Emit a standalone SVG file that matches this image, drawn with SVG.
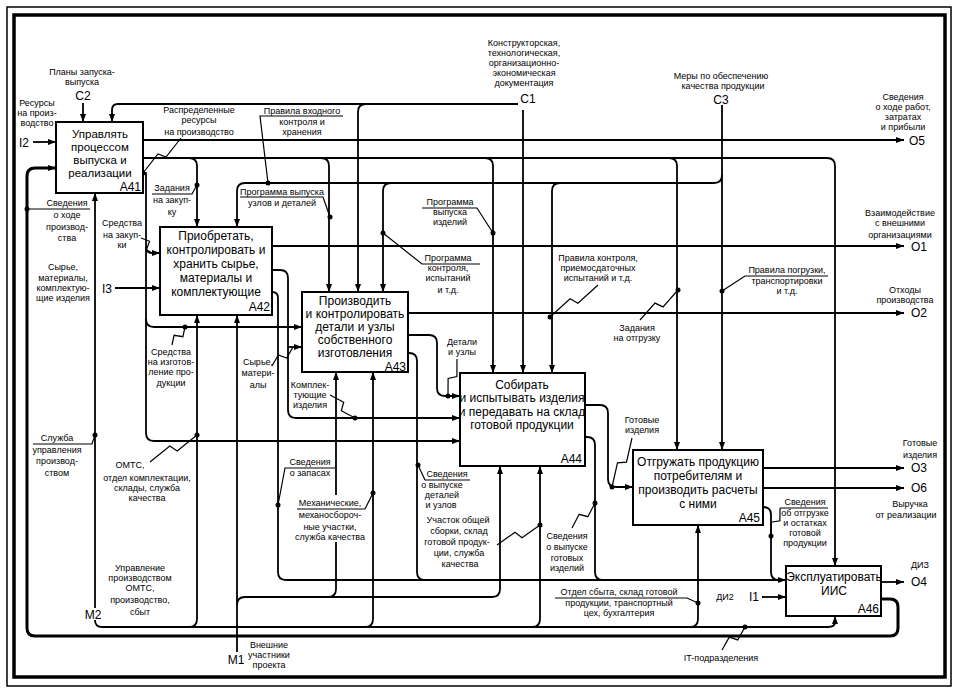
<svg xmlns="http://www.w3.org/2000/svg" width="958" height="690" viewBox="0 0 958 690">
<defs>
<marker id="arr" viewBox="0 0 8 6" refX="8" refY="3" markerWidth="8" markerHeight="6" markerUnits="userSpaceOnUse" orient="auto"><path d="M0,0 L8,3 L0,6 z" fill="#000"/></marker>
<style>
.ln{fill:none;stroke:#000;stroke-width:1.8;stroke-linejoin:round}
.ar{marker-end:url(#arr)}
.thk{stroke-width:3}
.thin{fill:none;stroke:#000;stroke-width:1.2}
.box{fill:#fff;stroke:#000;stroke-width:2}
.dot{fill:#000}
text{font-family:"Liberation Sans",Arial,sans-serif;fill:#000}
.t{font-size:9px;text-anchor:middle}
.bt{font-size:12px;text-anchor:middle}
.bts{font-size:11.5px;text-anchor:middle}
.bid{font-size:12px;text-anchor:end}
.cd{font-size:12px;text-anchor:middle}
</style>
</defs>
<rect x="0" y="0" width="958" height="690" fill="#fff"/>
<rect x="7" y="7" width="944" height="679" fill="none" stroke="#000" stroke-width="1.5"/>
<rect x="14" y="15" width="931" height="662" fill="none" stroke="#000" stroke-width="3.5"/>

<g id="connectors">
<path class="ln ar" d="M83,103 V122"/>
<path class="ln ar" d="M518,104 H118 Q112,104 112,110 V122"/>
<path class="ln ar" d="M366,104 Q358,104 358,112 V292"/>
<path class="ln ar" d="M523,110 V373"/>
<path class="ln ar" d="M722,105 V450"/>
<path class="ln ar" d="M722,175 Q722,183 714,183 H245 Q237,183 237,191 V227"/>
<path class="ln ar" d="M391,183 Q383,183 383,191 V292"/>
<path class="ln ar" d="M560,183 Q552,183 552,191 V373"/>
<path class="ln ar" d="M143,158 H827 Q835,158 835,166 V566"/>
<path class="ln ar" d="M189,158 Q197,158 197,166 V227"/>
<path class="ln ar" d="M321,158 Q329,158 329,166 V292"/>
<path class="ln ar" d="M485,158 Q493,158 493,166 V373"/>
<path class="ln ar" d="M669,158 Q677,158 677,166 V450"/>
<path class="ln ar" d="M143,140 H904"/>
<path class="ln ar" d="M33,142 H56"/>
<path class="ln ar" d="M115,288 H160"/>
<path class="ln ar thk" d="M881,599 H890 Q898,599 898,607 V628 Q898,636 890,636 H35 Q27,636 27,628 V176 Q27,168 35,168 H56"/>
<path class="ln ar" d="M143,173 H146 V433 Q146,441 154,441 H460"/>
<path class="ln ar" d="M146,247 Q146,253 152,253 H160"/>
<path class="ln ar" d="M146,319 Q146,327 154,327 H302"/>
<path class="ln ar" d="M95,608 V193"/>
<path class="ln ar" d="M95,620 Q95,627 102,627 H828 Q835,627 835,622 V616"/>
<path class="ln ar" d="M189,627 Q197,627 197,619 V315"/>
<path class="ln ar" d="M365,627 Q373,627 373,619 V372"/>
<path class="ln ar" d="M532,627 Q540,627 540,619 V466"/>
<path class="ln ar" d="M690,627 Q698,627 698,619 V525"/>
<path class="ln ar" d="M237,652 V315"/>
<path class="ln ar" d="M237,605 Q237,597 245,597 H492 Q500,597 500,589 V466"/>
<path class="ln" d="M328,597 Q336,597 336,589 V542"/>
<path class="ln ar" d="M336,495 V372"/>
<path class="ln ar" d="M272,246 H904"/>
<path class="ln ar" d="M272,270 H280 Q288,270 288,278 V410 Q288,418 296,418 H460"/>
<path class="ln ar" d="M288,347 H302"/>
<path class="ln ar" d="M272,292 Q278,292 278,298 V572 Q278,580 286,580 H786"/>
<path class="ln ar" d="M408,313 H904"/>
<path class="ln ar" d="M408,335 H429 Q437,335 437,343 V388 Q437,396 445,396 H460"/>
<path class="ln" d="M408,353 H409 Q417,353 417,361 V572 Q417,580 425,580"/>
<path class="ln ar" d="M585,405 H600 Q608,405 608,413 V479 Q608,487 616,487 H633"/>
<path class="ln" d="M585,437 H587 Q595,437 595,445 V572 Q595,580 603,580"/>
<path class="ln ar" d="M763,468 H904"/>
<path class="ln ar" d="M763,488 H904"/>
<path class="ln" d="M763,507 Q771,507 771,515 V572 Q771,580 779,580"/>
<path class="ln ar" d="M762,597 H786"/>
<path class="ln ar" d="M881,582 H904"/>

<path class="thin" d="M181,138 L166,157 L158,154 L143,173"/>
<path class="thin" d="M141,238 L149.6,241.3 L146.4,249.7 L152,253"/>
<path class="thin" d="M172,345 L174.1,335.3 L182.9,336.7 L185,327"/>
<path class="thin" d="M150,462 L169.8,446 L177.2,451 L197,435"/>
<path class="thin" d="M598,285 L577.9,303.2 L570.1,298.8 L550,317"/>
<path class="thin" d="M640,320 L655,303.1 L663,306.9 L678,290"/>
<path class="thin" d="M272,366 L278.3,354.9 L286.7,358.1 L293,347"/>
<path class="thin" d="M330,395 L343.7,402.2 L341.3,410.8 L355,418"/>
<path class="thin" d="M457,359 L456.9,376.5 L448.1,378.5 L448,396"/>
<path class="thin" d="M632,438 L626.5,462.2 L617.5,462.8 L612,487"/>
<path class="thin" d="M497,545 L515,532.2 L522,537.8 L540,525"/>
<path class="thin" d="M572,528 L579.2,514.3 L587.8,516.7 L595,503"/>
<path class="thin" d="M722,650 L729.3,637.1 L737.7,639.9 L745,627"/>
<path class="thin" d="M780,508 L779.9,520.8 L771.1,522.2 L771,536"/>
<path class="thin" d="M27,209 H90"/>
<path class="thin" d="M152,194 H192 L197,185"/>
<path class="thin" d="M343,116 H260 L268,183"/>
<path class="thin" d="M240,197 H323 L330,217"/>
<path class="thin" d="M422,208 H477 L493,233"/>
<path class="thin" d="M480,264 H422 L383,233"/>
<path class="thin" d="M828,276 H745 L722,291"/>
<path class="thin" d="M33,444 H92 L95,435"/>
<path class="thin" d="M335,468 H285 L278,505"/>
<path class="thin" d="M297,509 H365 L373,493"/>
<path class="thin" d="M470,480 H425 L418,465"/>
<path class="thin" d="M555,598 H687 L698,603"/>
<path class="thin" d="M828,508 H780"/>

<g class="dot">
<circle cx="143" cy="173" r="2.5"/><circle cx="27" cy="209" r="2.5"/><circle cx="197" cy="185" r="2.5"/>
<circle cx="268" cy="183" r="2.5"/><circle cx="330" cy="217" r="2.5"/><circle cx="493" cy="233" r="2.5"/>
<circle cx="383" cy="233" r="2.5"/><circle cx="550" cy="317" r="2.5"/><circle cx="678" cy="290" r="2.5"/>
<circle cx="722" cy="291" r="2.5"/><circle cx="185" cy="327" r="2.5"/><circle cx="95" cy="435" r="2.5"/>
<circle cx="197" cy="435" r="2.5"/><circle cx="278" cy="505" r="2.5"/><circle cx="373" cy="493" r="2.5"/>
<circle cx="418" cy="465" r="2.5"/><circle cx="355" cy="418" r="2.5"/><circle cx="448" cy="396" r="2.5"/>
<circle cx="612" cy="487" r="2.5"/><circle cx="540" cy="525" r="2.5"/><circle cx="595" cy="503" r="2.5"/>
<circle cx="698" cy="603" r="2.5"/><circle cx="745" cy="627" r="2.5"/><circle cx="771" cy="536" r="2.5"/>
</g>

<text class="t"><tspan x="82" y="75">Планы запуска-</tspan><tspan x="82" y="85">выпуска</tspan></text>
<text class="cd" x="83" y="100">C2</text>
<text class="t"><tspan x="37" y="106">Ресурсы</tspan><tspan x="37" y="116">на произ-</tspan><tspan x="37" y="126">водство</tspan></text>
<text class="cd" x="24" y="147">I2</text>
<text class="t"><tspan x="199" y="113">Распределенные</tspan><tspan x="199" y="123">ресурсы</tspan><tspan x="199" y="135">на производство</tspan></text>
<text class="t"><tspan x="302" y="114">Правила входного</tspan><tspan x="302" y="125">контроля и</tspan><tspan x="302" y="135">хранения</tspan></text>
<text class="t"><tspan x="524" y="46">Конструкторская,</tspan><tspan x="524" y="56">технологическая,</tspan><tspan x="524" y="66">организационно-</tspan><tspan x="524" y="76">экономическая</tspan><tspan x="524" y="86">документация</tspan></text>
<text class="cd" x="528" y="103">C1</text>
<text class="t"><tspan x="721" y="79">Меры по обеспечению</tspan><tspan x="723" y="89">качества продукции</tspan></text>
<text class="cd" x="721" y="104">C3</text>
<text class="t"><tspan x="903" y="100">Сведения</tspan><tspan x="903" y="110">о ходе работ,</tspan><tspan x="903" y="120">затратах</tspan><tspan x="903" y="130">и прибыли</tspan></text>
<text class="cd" x="917" y="145">O5</text>
<text class="t"><tspan x="172" y="191">Задания</tspan><tspan x="172" y="203">на закуп-</tspan><tspan x="172" y="215">ку</tspan></text>
<text class="t"><tspan x="282" y="195">Программа выпуска</tspan><tspan x="282" y="206">узлов и деталей</tspan></text>
<text class="t"><tspan x="450" y="205">Программа</tspan><tspan x="450" y="215">выпуска</tspan><tspan x="450" y="225">изделий</tspan></text>
<text class="t"><tspan x="67" y="206">Сведения</tspan><tspan x="67" y="218">о ходе</tspan><tspan x="67" y="230">производ-</tspan><tspan x="67" y="241">ства</tspan></text>
<text class="t"><tspan x="122" y="226">Средства</tspan><tspan x="122" y="238">на закуп-</tspan><tspan x="122" y="248">ки</tspan></text>
<text class="t"><tspan x="900" y="216">Взаимодействие</tspan><tspan x="900" y="226">с внешними</tspan><tspan x="900" y="238">организациями</tspan></text>
<text class="cd" x="919" y="251">O1</text>
<text class="t"><tspan x="448" y="261">Программа</tspan><tspan x="448" y="271">контроля,</tspan><tspan x="448" y="281">испытаний</tspan><tspan x="448" y="293">и т.д.</tspan></text>
<text class="t"><tspan x="598" y="261">Правила контроля,</tspan><tspan x="598" y="271">приемосдаточных</tspan><tspan x="598" y="281">испытаний и т.д.</tspan></text>
<text class="t"><tspan x="787" y="273">Правила погрузки,</tspan><tspan x="787" y="284">транспортировки</tspan><tspan x="787" y="294">и т.д.</tspan></text>
<text class="t"><tspan x="905" y="293">Отходы</tspan><tspan x="905" y="303">производства</tspan></text>
<text class="cd" x="919" y="317">O2</text>
<text class="t"><tspan x="637" y="331">Задания</tspan><tspan x="637" y="341">на отгрузку</tspan></text>
<text class="t"><tspan x="63" y="270">Сырье,</tspan><tspan x="63" y="281">материалы,</tspan><tspan x="63" y="291">комплектую-</tspan><tspan x="63" y="301">щие изделия</tspan></text>
<text class="cd" x="107" y="293">I3</text>
<text class="t"><tspan x="171" y="355">Средства</tspan><tspan x="171" y="365">на изготов-</tspan><tspan x="171" y="375">ление про-</tspan><tspan x="171" y="386">дукции</tspan></text>
<text class="t"><tspan x="258" y="365">Сырье,</tspan><tspan x="258" y="376">матери-</tspan><tspan x="258" y="388">алы</tspan></text>
<text class="t"><tspan x="310" y="388">Комплек-</tspan><tspan x="310" y="398">тующие</tspan><tspan x="310" y="408">изделия</tspan></text>
<text class="t"><tspan x="462" y="345">Детали</tspan><tspan x="462" y="355">и узлы</tspan></text>
<text class="t"><tspan x="642" y="423">Готовые</tspan><tspan x="642" y="433">изделия</tspan></text>
<text class="t"><tspan x="920" y="446">Готовые</tspan><tspan x="920" y="458">изделия</tspan></text>
<text class="cd" x="919" y="472">O3</text>
<text class="cd" x="919" y="492">O6</text>
<text class="t"><tspan x="910" y="507">Выручка</tspan><tspan x="906" y="518">от реализации</tspan></text>
<text class="t"><tspan x="57" y="441">Служба</tspan><tspan x="57" y="453">управления</tspan><tspan x="57" y="464">производ-</tspan><tspan x="57" y="476">ством</tspan></text>
<text class="t"><tspan x="130" y="468">ОМТС,</tspan><tspan x="147" y="481">отдел комплектации,</tspan><tspan x="147" y="491">склады, служба</tspan><tspan x="147" y="501">качества</tspan></text>
<text class="t"><tspan x="310" y="465">Сведения</tspan><tspan x="310" y="476">о запасах</tspan></text>
<text class="t"><tspan x="330" y="506">Механические,</tspan><tspan x="330" y="518">механосбороч-</tspan><tspan x="330" y="530">ные участки,</tspan><tspan x="330" y="540">служба качества</tspan></text>
<text class="t"><tspan x="447" y="477">Сведения</tspan><tspan x="442" y="488">о выпуске</tspan><tspan x="442" y="498">деталей</tspan><tspan x="441" y="508">и узлов</tspan></text>
<text class="t"><tspan x="458" y="523">Участок общей</tspan><tspan x="459" y="534">сборки, склад</tspan><tspan x="457" y="545">готовой продук-</tspan><tspan x="459" y="556">ции, служба</tspan><tspan x="460" y="567">качества</tspan></text>
<text class="t"><tspan x="567" y="539">Сведения</tspan><tspan x="567" y="550">о выпуске</tspan><tspan x="567" y="561">готовых</tspan><tspan x="567" y="571">изделий</tspan></text>
<text class="t"><tspan x="805" y="505">Сведения</tspan><tspan x="805" y="516">об отгрузке</tspan><tspan x="805" y="526">и остатках</tspan><tspan x="805" y="536">готовой</tspan><tspan x="805" y="546">продукции</tspan></text>
<text class="t"><tspan x="920" y="568">ДИЗ</tspan></text>
<text class="cd" x="919" y="586">O4</text>
<text class="t" x="725" y="600">ДИ2</text>
<text class="cd" x="754" y="601">I1</text>
<text class="t"><tspan x="140" y="571">Управление</tspan><tspan x="140" y="581">производством</tspan><tspan x="140" y="591">ОМТС,</tspan><tspan x="140" y="603">производство,</tspan><tspan x="140" y="615">сбыт</tspan></text>
<text class="cd" x="93" y="619">M2</text>
<text class="t"><tspan x="619" y="595">Отдел сбыта, склад готовой</tspan><tspan x="619" y="606">продукции, транспортный</tspan><tspan x="619" y="616">цех, бухгалтерия</tspan></text>
<text class="cd" x="236" y="664">M1</text>
<text class="t"><tspan x="269" y="648">Внешние</tspan><tspan x="269" y="658">участники</tspan><tspan x="269" y="668">проекта</tspan></text>
<text class="t" x="721" y="661">IT-подразделения</text>
</g>

<g id="A41">
<rect class="box" x="56" y="122" width="87" height="71"/>
<text class="bts"><tspan x="100" y="138">Управлять</tspan><tspan x="100" y="151">процессом</tspan><tspan x="100" y="164">выпуска и</tspan><tspan x="100" y="177">реализации</tspan></text>
<text class="bid" x="141" y="191">A41</text>
</g>
<g id="A42">
<rect class="box" x="160" y="227" width="112" height="88"/>
<text class="bt"><tspan x="216" y="240">Приобретать,</tspan><tspan x="216" y="254">контролировать и</tspan><tspan x="216" y="268">хранить сырье,</tspan><tspan x="216" y="282">материалы и</tspan><tspan x="216" y="296">комплектующие</tspan></text>
<text class="bid" x="270" y="311">A42</text>
</g>
<g id="A43">
<rect class="box" x="302" y="292" width="106" height="80"/>
<text class="bt"><tspan x="355" y="305">Производить</tspan><tspan x="355" y="318">и контролировать</tspan><tspan x="355" y="331">детали и узлы</tspan><tspan x="355" y="344">собственного</tspan><tspan x="355" y="357">изготовления</tspan></text>
<text class="bid" x="406" y="370.5">A43</text>
</g>
<g id="A44">
<rect class="box" x="460" y="373" width="125" height="93"/>
<text class="bt"><tspan x="522" y="389">Собирать</tspan><tspan x="522" y="402">и испытывать изделия</tspan><tspan x="522" y="416">и передавать на склад</tspan><tspan x="522" y="429">готовой продукции</tspan></text>
<text class="bid" x="582" y="463">A44</text>
</g>
<g id="A45">
<rect class="box" x="633" y="450" width="130" height="75"/>
<text class="bt"><tspan x="698" y="466">Отгружать продукцию</tspan><tspan x="698" y="480">потребителям и</tspan><tspan x="698" y="494">производить расчеты</tspan><tspan x="698" y="508">с ними</tspan></text>
<text class="bid" x="760" y="522">A45</text>
</g>
<g id="A46">
<rect class="box" x="786" y="566" width="95" height="50"/>
<text class="bt"><tspan x="834" y="581">Эксплуатировать</tspan><tspan x="834" y="595">ИИС</tspan></text>
<text class="bid" x="879" y="613">A46</text>
</g>
</svg>
